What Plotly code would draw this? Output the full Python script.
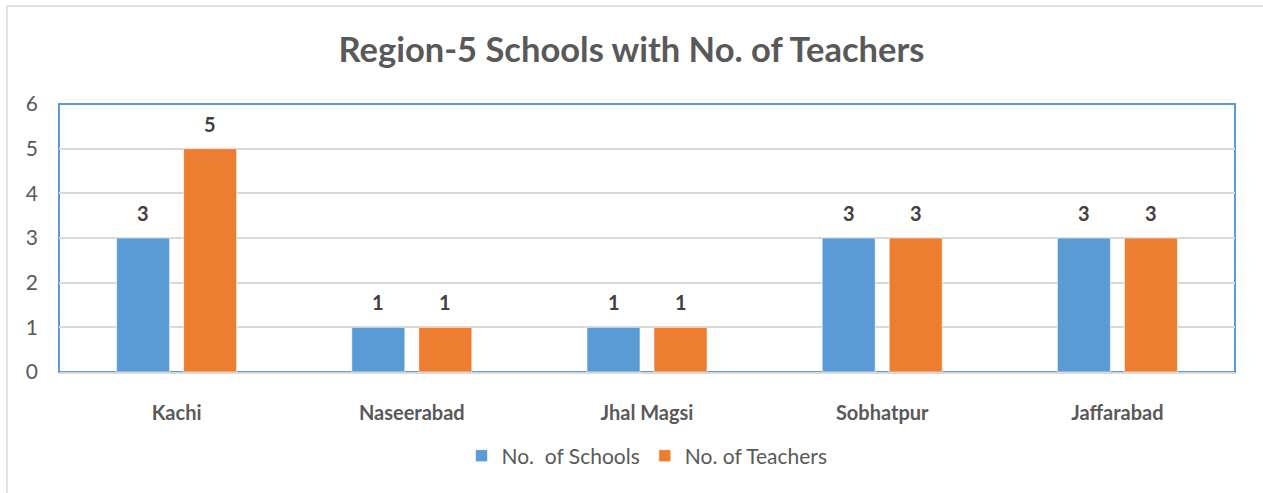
import plotly.graph_objects as go

categories = ["Kachi", "Naseerabad", "Jhal Magsi", "Sobhatpur", "Jaffarabad"]
schools = [3, 1, 1, 3, 3]
teachers = [5, 1, 1, 3, 3]
series_names = ["No.  of Schools", "No. of Teachers"]
colors = ["#5B9BD5", "#ED7D31"]
y_ticks = [0, 1, 2, 3, 4, 5, 6]

FONT = "Lato"
GREY = "#595959"

fig = go.Figure()
for name, vals, col in zip(series_names, [schools, teachers], colors):
    fig.add_trace(go.Bar(x=categories, y=vals, name=name,
                         marker=dict(color=col, line=dict(color="rgba(255,255,255,0.6)", width=1))))

annotations = []
for vals, shift in zip([schools, teachers], [-33.5, 33.5]):
    for c, v in zip(categories, vals):
        annotations.append(dict(x=c, y=v, xref="x", yref="y", text=str(v), showarrow=False,
                                xshift=shift, yshift=25,
                                font=dict(family=FONT, size=20, color="#404040", weight="bold")))

L, R, T, B = 59, 28, 104, 121
W, H = 1263, 493
pw, ph = W - L - R, H - T - B
def px_x(p): return (p - L) / pw
def px_y(p): return (H - B - p) / ph

shapes = [
    dict(type="rect", xref="paper", yref="paper", x0=0, x1=1, y0=0, y1=1,
         line=dict(color="#5B9BD5", width=2), layer="below"),
    dict(type="line", xref="paper", yref="paper", x0=px_x(7), x1=px_x(W + 5), y0=px_y(6), y1=px_y(6),
         line=dict(color="#D9D9D9", width=1.5)),
    dict(type="line", xref="paper", yref="paper", x0=px_x(7), x1=px_x(7), y0=px_y(6), y1=px_y(H + 5),
         line=dict(color="#D9D9D9", width=1.5)),
]

fig.update_layout(
    width=W, height=H,
    margin=dict(l=L, r=R, t=T, b=B),
    paper_bgcolor="white", plot_bgcolor="white",
    barmode="group", bargap=0.43, bargroupgap=0.209,
    title=dict(text="Region-5 Schools with No. of Teachers", x=0.5, xanchor="center",
               y=1 - 50 / H, yanchor="middle",
               font=dict(family=FONT, size=34.5, color=GREY, weight="bold")),
    xaxis=dict(showgrid=False, showline=True, linecolor="#D9D9D9", linewidth=2,
               ticks="", ticklabelstandoff=22,
               tickfont=dict(family=FONT, size=20, color=GREY, weight="bold")),
    yaxis=dict(range=[0, 6], tickvals=y_ticks, showgrid=True, gridcolor="#D9D9D9", gridwidth=1.5,
               zeroline=False, showline=False, ticks="", ticklabelstandoff=20,
               tickfont=dict(family=FONT, size=21, color=GREY)),
    legend=dict(orientation="h", x=0.5, xanchor="center", y=px_y(456), yanchor="middle",
                font=dict(family=FONT, size=21, color=GREY), itemwidth=30, tracegroupgap=0),
    annotations=annotations,
    shapes=shapes,
)

fig.write_html("out.html", config={"displayModeBar": False},
               post_script="document.body.style.margin='0px';")
